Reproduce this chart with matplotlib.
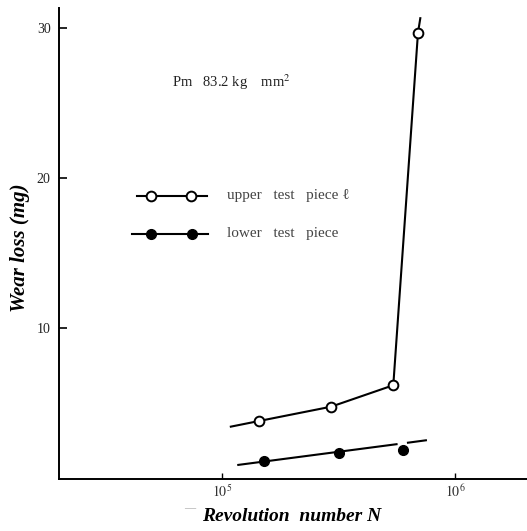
import matplotlib
matplotlib.use("Agg")
import matplotlib.pyplot as plt
import numpy as np

plt.rcParams['font.family'] = ['Liberation Serif', 'DejaVu Serif']
plt.rcParams['mathtext.fontset'] = 'stix'

# Upper test piece (open circles)
upper_x = [1.439e5, 2.924e5, 5.408e5, 6.902e5]
upper_y = [3.82, 4.77, 6.20, 29.7]
upper_line_x = [1.086e5, 1.439e5, 2.924e5, 5.408e5, 6.902e5, 7.063e5]
upper_line_y = [3.44, 3.82, 4.77, 6.20, 29.7, 30.67]

# Lower test piece (filled circles) and its fitted line
lower_x = [1.507e5, 3.170e5, 5.970e5]
lower_y = [1.15, 1.67, 1.87]
lower_fit_x1 = [1.169e5, 5.585e5]
lower_fit_y1 = [0.89, 2.27]
lower_fit_x2 = [6.252e5, 7.464e5]
lower_fit_y2 = [2.37, 2.53]

xticks = [1e5, 1e6]
xticklabels = [r'$10^5$', r'$10^6$']
yticks = [10, 20, 30]
yticklabels = ['10', '20', '30']

W, H = 527, 531
fig = plt.figure(figsize=(W / 100, H / 100), dpi=100)
ax = fig.add_axes([59 / W, (H - 479.3) / H, (W - 59) / W, (479.3 - 8.3) / H])

ax.set_xscale('log')
ax.set_xlim(1.988e4, 2.027e6)
ax.set_ylim(-0.07, 31.33)

lw = 1.5
ax.plot(upper_line_x, upper_line_y, color='black', lw=lw, zorder=2)
ax.plot(upper_x, upper_y, 'o', ms=7, mfc='white', mec='black', mew=1.4, zorder=3)
ax.plot(lower_fit_x1, lower_fit_y1, color='black', lw=lw, zorder=2)
ax.plot(lower_fit_x2, lower_fit_y2, color='black', lw=lw, zorder=2)
ax.plot(lower_x, lower_y, 'o', ms=7, mfc='black', mec='black', zorder=3)

for s in ['top', 'right']:
    ax.spines[s].set_visible(False)
for s in ['left', 'bottom']:
    ax.spines[s].set_linewidth(1.4)

ax.set_xticks(xticks)
ax.set_xticklabels(xticklabels, fontsize=10, color='#333333')
ax.xaxis.set_minor_locator(matplotlib.ticker.NullLocator())
ax.set_yticks(yticks)
ax.set_yticklabels(yticklabels, fontsize=10, color='#222222')
ax.tick_params(axis='x', direction='in', length=4, width=1.0, pad=3)
ax.tick_params(axis='y', direction='in', length=6, width=1.2, pad=6)

ax.set_ylabel('Wear loss (mg)', fontsize=15, fontweight='bold', style='italic', labelpad=5)
ax.yaxis.label.set_y((479.3 - 247.5) / 471.0)
ax.set_xlabel('Revolution  number N', fontsize=14, fontweight='bold', style='italic', labelpad=6)
ax.xaxis.label.set_x((291.5 - 59) / 468.0)
fig.text(184 / W, 1 - 509 / H, '\u2014', fontsize=8, color='#999999', va='center', ha='left')

# Key
def fx(px):
    return (px - 59) / 468.0

def fy(py):
    return (479.3 - py) / 471.0

ax.plot([fx(136.7), fx(206.7)], [fy(195.5), fy(195.5)], transform=ax.transAxes,
        color='black', lw=lw, clip_on=False)
ax.plot([fx(151), fx(190.5)], [fy(195.5), fy(195.5)], 'o', transform=ax.transAxes,
        ms=7, mfc='white', mec='black', mew=1.4, clip_on=False)
ax.plot([fx(132), fx(208)], [fy(234), fy(234)], transform=ax.transAxes,
        color='black', lw=lw, clip_on=False)
ax.plot([fx(150.5), fx(191.5)], [fy(234), fy(234)], 'o', transform=ax.transAxes,
        ms=7, mfc='black', mec='black', clip_on=False)
ax.text(fx(226.7), fy(196), 'upper   test   piece \u2113', transform=ax.transAxes,
        fontsize=11, va='center', ha='left', color='#444444')
ax.text(fx(226.7), fy(233), 'lower   test   piece', transform=ax.transAxes,
        fontsize=11, va='center', ha='left', color='#444444')
ax.text(fx(172), fy(82), 'Pm   83.2 kg    mm$^{2}$', transform=ax.transAxes,
        fontsize=10.5, va='center', ha='left', color='#222222')

fig.savefig('out.png', dpi=100)
